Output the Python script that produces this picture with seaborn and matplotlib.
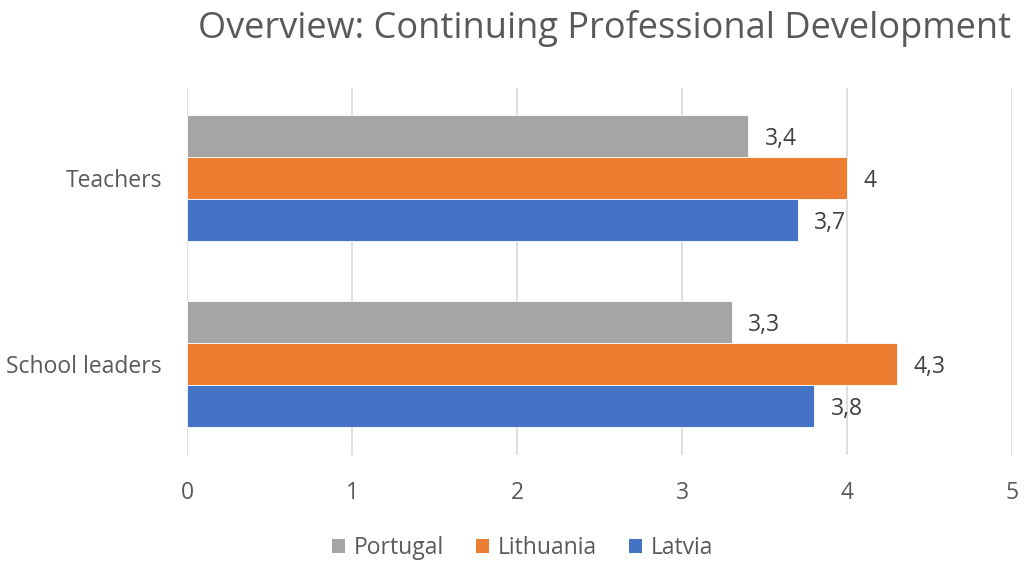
import pandas as pd
import matplotlib
matplotlib.use("Agg")
import matplotlib.pyplot as plt
import seaborn as sns
from matplotlib.patches import Patch

# Chart data
categories = ["Teachers", "School leaders"]
countries = ["Portugal", "Lithuania", "Latvia"]
portugal = [3.4, 3.3]
lithuania = [4.0, 4.3]
latvia = [3.7, 3.8]
x_ticks = [0, 1, 2, 3, 4, 5]

palette = {"Portugal": "#A5A5A5", "Lithuania": "#ED7D31", "Latvia": "#4472C4"}

rows = []
for country, values in zip(countries, [portugal, lithuania, latvia]):
    for cat, v in zip(categories, values):
        rows.append({"category": cat, "country": country, "score": v})
df = pd.DataFrame(rows)

sns.set_theme(style="white")
plt.rcParams["font.family"] = ["Open Sans", "DejaVu Sans"]

fig = plt.figure(figsize=(10.24, 5.68), dpi=100)
ax = fig.add_axes([0.1826, 0.199, 0.8057, 0.646])

sns.barplot(
    data=df,
    x="score",
    y="category",
    hue="country",
    order=categories,
    hue_order=countries,
    palette=palette,
    saturation=1,
    orient="h",
    width=0.675,
    edgecolor="white",
    linewidth=0.6,
    legend=False,
    ax=ax,
)

def fmt(v):
    s = f"{v:.1f}".rstrip("0").rstrip(".")
    return s.replace(".", ",")

for container in ax.containers:
    labels = ax.bar_label(
        container,
        labels=[fmt(v) for v in container.datavalues],
        padding=12,
        fontsize=16.5,
        color="#404040",
    )
    for t in labels:
        t.set_va("center_baseline")

ax.set_xlim(0, 5)
ax.set_ylim(1.49, -0.484)
ax.set_xticks(x_ticks)
ax.set_xticklabels([str(t) for t in x_ticks])
ax.set_xlabel("")
ax.set_ylabel("")
ax.xaxis.grid(True, color="#D9D9D9", linewidth=1.2)
ax.yaxis.grid(False)
ax.set_axisbelow(True)
for s in ax.spines.values():
    s.set_visible(False)
ax.tick_params(axis="x", length=0, pad=19, labelsize=16.5, labelcolor="#595959")
ax.tick_params(axis="y", length=0, pad=18, labelsize=16.5, labelcolor="#595959")

fig.text(0.59, 0.949, "Overview: Continuing Professional Development",
         ha="center", va="center", fontsize=26, color="#595959")

handles = [Patch(facecolor=palette[c], edgecolor="none", label=c) for c in countries]
fig.legend(
    handles=handles,
    loc="center",
    bbox_to_anchor=(0.51, 0.035),
    ncol=3,
    frameon=False,
    fontsize=16.5,
    handlelength=0.6,
    handleheight=0.6,
    handletextpad=0.35,
    columnspacing=1.4,
    labelcolor="#595959",
)

fig.savefig("out.png", dpi=100)
